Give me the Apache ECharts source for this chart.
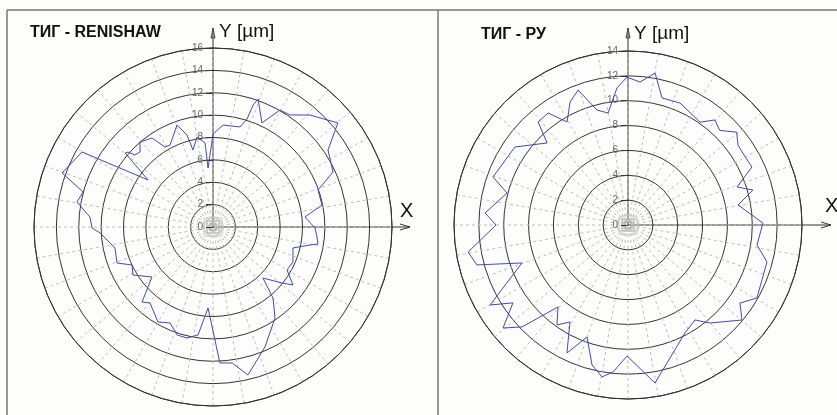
<!DOCTYPE html>
<html>
<head>
<meta charset="utf-8">
<script src="https://cdn.jsdelivr.net/npm/echarts@6/dist/echarts.min.js"></script>
<style>
  html, body { margin: 0; padding: 0; background: #fdfdfb; }
  #chart { width: 837px; height: 415px; }
</style>
</head>
<body>
<div id="chart"></div>
<script>
// angles in degrees, measured from +X counterclockwise; radii in µm
const leftAngle = [
  350.8, 354.5, 359.4, 6.2, 11.4, 19.4, 24.6, 33.8, 39.8, 49.1, 55.5, 60.2,
  64.8, 70.6, 71.8, 72.5, 74.9, 84.4, 90, 94.8, 95.4, 100.1, 104.6, 105.8,
  109.4, 117.7, 121.0, 124.4, 130.7, 134.2, 137.3, 138.6, 139.9, 144.1, 150.2,
  160.3, 164.9, 169.6, 175.4, 180.5, 183.0, 192.1, 200.6, 205.1, 211.0, 219.3,
  226.6, 230.3, 239.9, 245.9, 251.6, 256.8, 262.1, 266.5, 272.9, 278.0, 283.3,
  293.4, 304.3, 310.2, 314.4, 320.9, 324.1, 329.8, 336.4, 345.3, 349.5
];
const leftRadius = [
  9.5, 9.34, 9.12, 8.27, 9.94, 9.95, 11.8, 12.37, 14.53, 13.24, 12.15, 12.05,
  10.28, 12.13, 11.47, 10.12, 9.26, 9.16, 8.31, 5.29, 7.54, 8.17, 7.11, 8.54,
  9.67, 8.27, 8.34, 9.64, 10.01, 9.35, 9.49, 10.13, 10.27, 7.17, 13.49,
  14.33, 12.03, 12.36, 11.03, 10.81, 10.11, 8.96, 9.16, 8.0, 8.34, 7.05,
  9.23, 8.82, 9.81, 9.4, 10.17, 10.19, 9.74, 7.25, 12.17, 12.27, 13.59,
  11.69, 9.84, 8.31, 6.38, 7.94, 8.83, 7.65, 7.8, 7.39, 8.82
];

const rightAngle = [
  0.8, 10.3, 15.6, 19.2, 25.1, 31.1, 36.0, 40.5, 45.9, 50.4, 55.0, 66.9,
  75.0, 79.9, 85.2, 90.4, 94.6, 100.1, 105.1, 110.3, 115.2, 120.6, 125.5,
  131.1, 134.6, 145.4, 160.4, 165.2, 175.2, 180, 189.6, 194.8, 199.7, 210.1,
  214.1, 219.5, 223.9, 229.5, 234.6, 239.1, 244.5, 249.9, 255.6, 260.3,
  264.2, 269.6, 279.7, 297.8, 305.2, 309.9, 320.2, 325.1, 330.5, 345.1, 351.2
];
const rightRadius = [
  10.86, 9.0, 10.44, 9.29, 11.01, 10.9, 10.94, 11.5, 10.6, 10.97, 10.1, 10.67,
  10.58, 12.42, 11.54, 11.9, 11.06, 9.15, 9.58, 11.58, 10.94, 9.63, 11.07,
  11.0, 9.27, 11.05, 11.53, 10.07, 11.54, 10.62, 13.05, 12.57, 9.06, 12.83,
  11.18, 13.03, 11.83, 8.67, 9.87, 9.09, 11.41, 9.6, 11.63, 12.4,
  11.89, 10.54, 12.9, 9.82, 9.35, 10.28, 11.94, 10.98, 11.92, 11.57, 10.5
];

const leftMax = 16;
const rightMax = 14;
const ringStep = 2;

const leftTitle = 'ТИГ - RENISHAW';
const rightTitle = 'ТИГ - РУ';

// polar axis starts at the top (90°) and runs counterclockwise
function polarData(angles, radii) {
  const pts = angles.map((a, i) => [radii[i], (a + 270) % 360]);
  pts.push(pts[0]);
  return pts;
}

function angleAxis(idx) {
  return {
    polarIndex: idx, type: 'value', min: 0, max: 360, interval: 10,
    startAngle: 90, clockwise: false,
    axisLine: { show: true, lineStyle: { color: '#333', width: 1 } },
    axisTick: { show: false }, axisLabel: { show: false },
    splitLine: { show: true, lineStyle: { color: '#bdbdbd', type: [3, 3], width: 1 } },
  };
}
function radiusAxis(idx, max) {
  return {
    polarIndex: idx, type: 'value', min: 0, max: max, interval: ringStep,
    axisLine: { show: false },
    axisTick: { show: true, length: 7, lineStyle: { color: '#333' } },
    axisLabel: { fontSize: 10, color: '#666', margin: 10, fontFamily: 'Liberation Sans' },
    splitLine: { show: true, lineStyle: { color: '#333', width: 1 } },
  };
}

// arrow axes and centre marker drawn over each polar plot
function axesGraphics(cx, cy, yTop, xEnd) {
  const st = { stroke: '#333', lineWidth: 1 };
  return [
    { type: 'line', shape: { x1: cx, y1: cy, x2: cx, y2: yTop }, style: st },
    { type: 'polygon', shape: { points: [[cx, yTop], [cx - 2, yTop + 10], [cx + 2, yTop + 10]] },
      style: { fill: '#888', stroke: '#333', lineWidth: 0.8 } },
    { type: 'line', shape: { x1: cx, y1: cy, x2: xEnd, y2: cy }, style: st },
    { type: 'polyline', shape: { points: [[xEnd - 10, cy - 3], [xEnd, cy], [xEnd - 10, cy + 3]] }, style: st },
    { type: 'rect', shape: { x: cx - 3, y: cy - 3, width: 6, height: 6 }, style: { fill: 'none', stroke: '#999', lineWidth: 1.5 } },
    { type: 'rect', shape: { x: cx - 6, y: cy - 6, width: 12, height: 12 }, style: { fill: 'none', stroke: '#bbb', lineWidth: 1.5 } },
    { type: 'rect', shape: { x: cx - 9, y: cy - 9, width: 18, height: 18 }, style: { fill: 'none', stroke: '#d4d4d4', lineWidth: 1 } },
  ];
}

const chart = echarts.init(document.getElementById('chart'), null, { renderer: 'canvas' });
chart.setOption({
  backgroundColor: '#fdfdfb',
  animation: false,
  polar: [
    { center: [213, 227], radius: 179 },
    { center: [628, 225], radius: 174 },
  ],
  angleAxis: [angleAxis(0), angleAxis(1)],
  radiusAxis: [radiusAxis(0, leftMax), radiusAxis(1, rightMax)],
  series: [
    {
      type: 'line', coordinateSystem: 'polar', polarIndex: 0,
      data: polarData(leftAngle, leftRadius), showSymbol: false, z: 5,
      lineStyle: { color: '#3c4db4', width: 1 },
    },
    {
      type: 'line', coordinateSystem: 'polar', polarIndex: 1,
      data: polarData(rightAngle, rightRadius), showSymbol: false, z: 5,
      lineStyle: { color: '#3c4db4', width: 1 },
    },
  ],
  graphic: [
    // frame
    { type: 'line', shape: { x1: 7, y1: 10, x2: 837, y2: 10 }, style: { stroke: '#777', lineWidth: 1.5 } },
    { type: 'line', shape: { x1: 7, y1: 10, x2: 7, y2: 415 }, style: { stroke: '#777', lineWidth: 1.5 } },
    { type: 'line', shape: { x1: 438, y1: 10, x2: 438, y2: 415 }, style: { stroke: '#777', lineWidth: 1.5 } },
    ...axesGraphics(213, 227, 28, 410),
    ...axesGraphics(628, 225, 28, 831),
    { type: 'text', x: 30, y: 33, style: { text: leftTitle, font: 'bold 16px "Liberation Sans"', fill: '#111', verticalAlign: 'middle' } },
    { type: 'text', x: 481, y: 35, style: { text: rightTitle, font: 'bold 16px "Liberation Sans"', fill: '#111', verticalAlign: 'middle' } },
    { type: 'text', x: 219, y: 32, style: { text: 'Y [µm]', font: '19px "Liberation Sans"', fill: '#111', verticalAlign: 'middle' } },
    { type: 'text', x: 634, y: 34, style: { text: 'Y [µm]', font: '19px "Liberation Sans"', fill: '#111', verticalAlign: 'middle' } },
    { type: 'text', x: 400, y: 211, style: { text: 'X', font: '20px "Liberation Sans"', fill: '#111', verticalAlign: 'middle' } },
    { type: 'text', x: 825, y: 206, style: { text: 'X', font: '20px "Liberation Sans"', fill: '#111', verticalAlign: 'middle' } },
  ],
});
</script>
</body>
</html>
